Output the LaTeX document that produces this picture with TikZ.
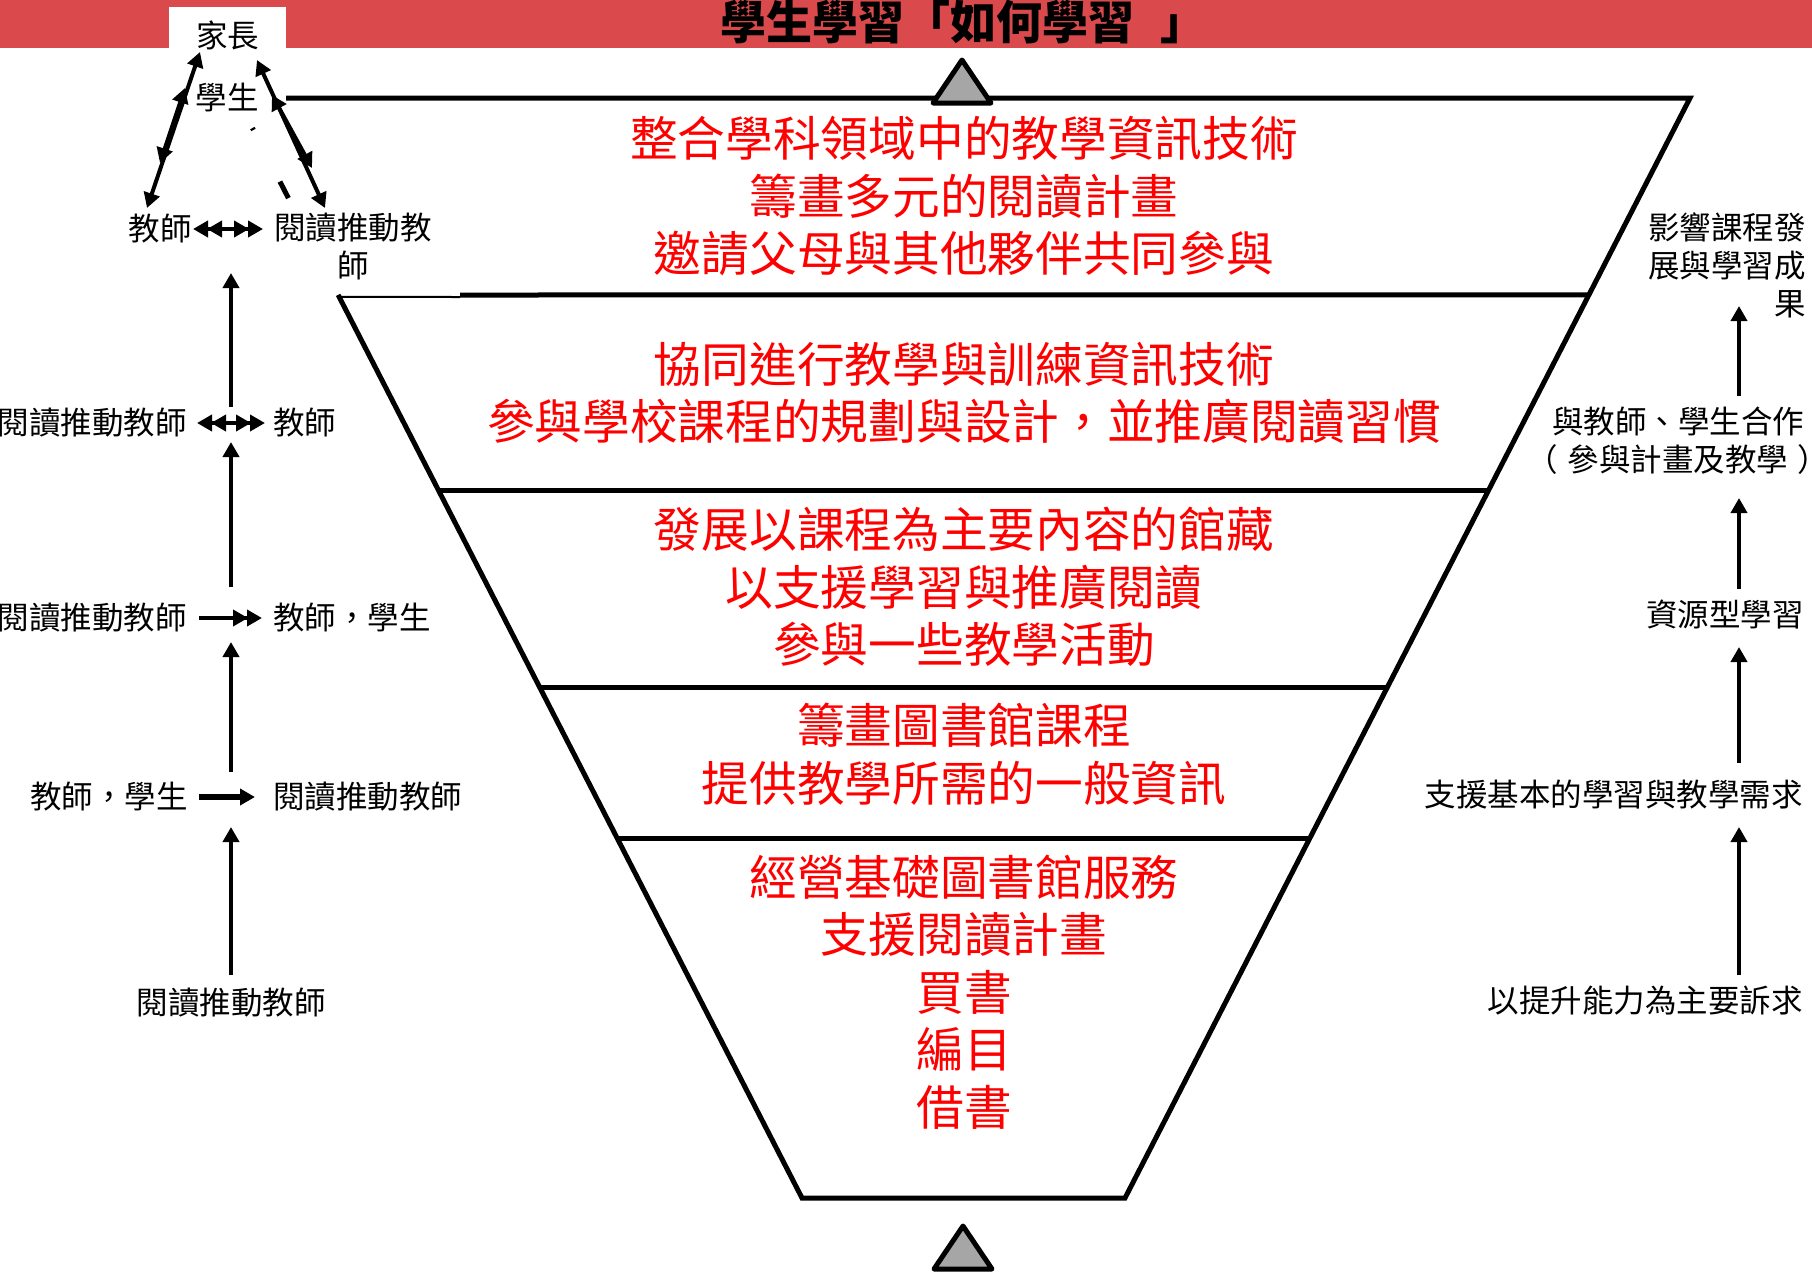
\documentclass[tikz,border=0pt]{standalone}
\usepackage{fontspec}
\setmainfont{Noto Sans CJK TC}
\usetikzlibrary{arrows.meta, positioning, calc}
\definecolor{bannerred}{RGB}{218,74,76}
\definecolor{wedgegray}{RGB}{166,166,166}
\definecolor{layerred}{RGB}{255,0,0}
\tikzset{
  layertext/.style={text=layerred, align=center, inner sep=0pt, font=\fontsize{47.7}{57.5}\selectfont},
  sidetext/.style={inner sep=0pt, font=\fontsize{31.5}{38}\selectfont},
  oneway/.style={line width=4pt, -{Triangle[length=15pt, width=16pt]}},
  twoway/.style={line width=4pt, {Triangle[length=15pt, width=16pt]}-{Triangle[length=15pt, width=16pt]}},
  wedge/.style={line width=5pt, fill=wedgegray, line join=round}
}
\begin{document}
\begin{tikzpicture}[x=1pt, y=-1pt]
  \useasboundingbox (0,0) rectangle (1812,1275);
  \clip (0,0) rectangle (1812,1275);
  \fill[bannerred] (0,0) rectangle (1812,48);
  \node[inner sep=0pt, font=\fontsize{46}{46}\selectfont\bfseries] (title) at (950,22) {學生學習「如何學習\kern0.57em」\kern-0.57em};

  \coordinate (tl) at (237,98);
  \coordinate (tr) at (1690,98);
  \coordinate (bl) at (802,1198);
  \coordinate (br) at (1125,1198);
  \draw[line width=5pt, line join=miter] (286,98) -- (tr) -- (br) -- (bl) -- ($(tl)!0.179!(bl)$);
  \draw[line width=2pt] ($(tl)!0.179!(bl)+(0,2)$) -- (460,297);
  \draw[line width=5pt] (460,295) -- ($(tr)!0.179!(br)$);
  \foreach \t in {0.357, 0.536, 0.673}
    \draw[line width=5pt] ($(tl)!\t!(bl)$) -- ($(tr)!\t!(br)$);
  \draw[line width=5pt] ($(tl)!0.0273!(bl)$) -- ($(tl)!0.0291!(bl)$);
  \draw[line width=5pt] ($(tl)!0.076!(bl)$) -- ($(tl)!0.091!(bl)$);

  \draw[wedge] (962,60) -- (991,103) -- (933,103) -- cycle;
  \draw[wedge] (963,1226) -- (992,1269) -- (934,1269) -- cycle;

  \node[layertext] (layerA) at (964,196) {整合學科領域中的教學資訊技術\\籌畫多元的閱讀計畫\\邀請父母與其他夥伴共同參與};
  \node[layertext] (layerB) at (964,393) {協同進行教學與訓練資訊技術\\參與學校課程的規劃與設計，並推廣閱讀習慣};
  \node[layertext] (layerC) at (964,587) {發展以課程為主要內容的館藏\\以支援學習與推廣閱讀\\參與一些教學活動};
  \node[layertext] (layerD) at (964,754) {籌畫圖書館課程\\提供教學所需的一般資訊};
  \node[layertext] (layerE) at (964,992) {經營基礎圖書館服務\\支援閱讀計畫\\買書\\編目\\借書};

  \node[sidetext, fill=white, minimum width=117pt, minimum height=56pt] (parent) at (227.5,35) {家長};
  \node[sidetext] (student) at (227,97) {學生};
  \node[sidetext, anchor=east] (teacherA) at (192,229) {教師};
  \node[sidetext, align=center] (readerA) at (353,247) {閱讀推動教\\師};
  \node[sidetext, anchor=east] (readerB) at (187,423) {閱讀推動教師};
  \node[sidetext, anchor=west] (teacherB) at (273,423) {教師};
  \node[sidetext, anchor=east] (readerC) at (187,618) {閱讀推動教師};
  \node[sidetext, anchor=west] (groupC) at (273,618) {教師，學生};
  \node[sidetext, anchor=east] (groupD) at (188,797) {教師，學生};
  \node[sidetext, anchor=west] (readerD) at (273,797) {閱讀推動教師};
  \node[sidetext] (readerE) at (231,1003) {閱讀推動教師};

  \coordinate (parentL) at (200,52);
  \coordinate (studentL) at (185,88);
  \coordinate (teacherLa) at (147,208);
  \coordinate (teacherLb) at (160,163);
  \coordinate (parentR) at (257,60);
  \coordinate (studentR) at (272,95);
  \coordinate (readerRa) at (325,208);
  \coordinate (readerRb) at (312,168);
  \draw[twoway] (teacherLa) -- (parentL);
  \draw[twoway] (teacherLb) -- (studentL);
  \draw[twoway] (readerRa) -- (parentR);
  \draw[twoway] (readerRb) -- (studentR);

  \draw[twoway, shorten <=1pt, shorten >=11pt] (teacherA.east) -- (teacherA.east -| readerA.west);
  \draw[twoway, shorten <=15pt, shorten >=25pt] (teacherA.east) -- (teacherA.east -| readerA.west);
  \draw[twoway, shorten <=10pt, shorten >=8pt] (readerB.east) -- (readerB.east -| teacherB.west);
  \draw[twoway, shorten <=24pt, shorten >=22pt] (readerB.east) -- (readerB.east -| teacherB.west);
  \draw[oneway, shorten <=12pt, shorten >=11pt] (readerC.east) -- (readerC.east -| groupC.west);
  \draw[oneway, shorten <=12pt, shorten >=25pt] (readerC.east) -- (readerC.east -| groupC.west);
  \draw[oneway, line width=6pt, shorten <=11pt, shorten >=18pt] (groupD.east) -- (groupD.east -| readerD.west);

  \coordinate (hubA) at (231,230);
  \coordinate (hubB) at (231,423);
  \coordinate (hubC) at (231,618);
  \coordinate (hubD) at (231,797);
  \draw[oneway, shorten <=13pt, shorten >=30pt] (readerE) -- (hubD);
  \draw[oneway, shorten <=25pt, shorten >=24pt] (hubD) -- (hubC);
  \draw[oneway, shorten <=31pt, shorten >=19pt] (hubC) -- (hubB);
  \draw[oneway, shorten <=16pt, shorten >=43pt] (hubB) -- (hubA);

  \node[sidetext, anchor=east, align=right] (outcome) at (1806,265) {影響課程發\\展與學習成\\果};
  \node[sidetext, align=center] (cooperate) at (1678,441) {與教師、學生合作\\\kern-0.68em（\kern0.3em參與計畫及教學\kern0.3em）\kern-0.667em};
  \node[sidetext] (resource) at (1725,615) {資源型學習};
  \node[sidetext, anchor=east] (support) at (1803,795) {支援基本的學習與教學需求};
  \node[sidetext, anchor=east] (ability) at (1803,1001) {以提升能力為主要訴求};

  \coordinate (spineA) at (1739,265);
  \coordinate (spineB) at (1739,441);
  \coordinate (spineC) at (1739,615);
  \coordinate (spineD) at (1739,795);
  \coordinate (spineE) at (1739,1001);
  \draw[oneway, shorten <=26pt, shorten >=32pt] (spineE) -- (spineD);
  \draw[oneway, shorten <=32pt, shorten >=32pt] (spineD) -- (spineC);
  \draw[oneway, shorten <=26pt, shorten >=57pt] (spineC) -- (spineB);
  \draw[oneway, shorten <=45pt, shorten >=41pt] (spineB) -- (spineA);
\end{tikzpicture}
\end{document}
